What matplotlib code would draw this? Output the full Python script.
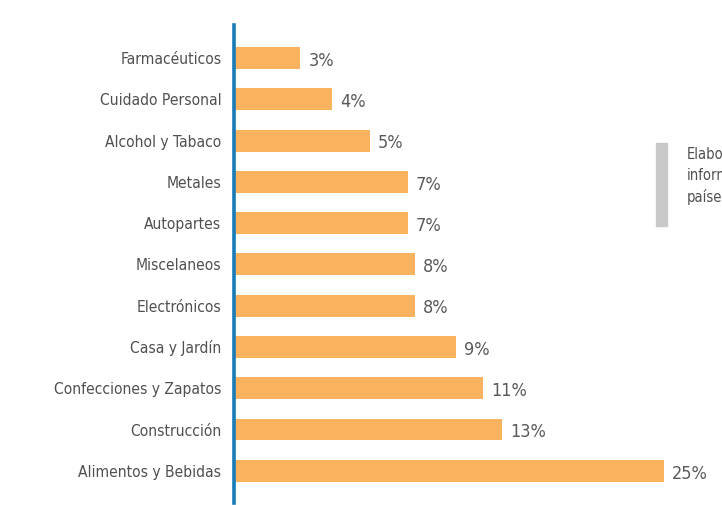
import matplotlib.pyplot as plt
from matplotlib.patches import Rectangle

# categories top to bottom
categories = ["Farmacéuticos", "Cuidado Personal", "Alcohol y Tabaco", "Metales",
              "Autopartes", "Miscelaneos", "Electrónicos", "Casa y Jardín",
              "Confecciones y Zapatos", "Construcción", "Alimentos y Bebidas"]
# printed shares
shares = [3, 4, 5, 7, 7, 8, 8, 9, 11, 13, 25]
# bar lengths as drawn in the picture (not proportional to the printed shares)
bar_len = [3.85, 5.7, 7.9, 10.1, 10.1, 10.5, 10.5, 12.9, 14.5, 15.6, 25.0]

plt.rcParams['font.family'] = ['DejaVu Sans']
plt.rcParams['font.stretch'] = 'condensed'
grey = '#505050'
orange = '#f9b35e'
blue = '#1a7bb9'

fig = plt.figure(figsize=(7.22, 5.05), dpi=100)
ax = fig.add_axes([234/722, 2/505, (722-234)/722, 478/505])

ypos = list(range(len(categories)))
ax.barh(ypos, bar_len, height=0.53, color=orange, edgecolor='none')
ax.set_xlim(0, (722-234)/17.2)
ax.set_ylim(10.78, -0.8)

for y, w, s in zip(ypos, bar_len, shares):
    ax.annotate(f"{s}%", (w, y), xytext=(6, -2), textcoords='offset points',
                ha='left', va='center', fontsize=13, color='#5a5a5a')

ax.set_yticks(ypos)
ax.set_yticklabels(categories, fontsize=11.2, color=grey)
ax.tick_params(axis='y', length=0, pad=9)
ax.set_xticks([])
for side in ['top', 'right', 'bottom']:
    ax.spines[side].set_visible(False)
ax.spines['left'].set_color(blue)
ax.spines['left'].set_linewidth(2.6)

# side note (cut off at the right edge, as in the source)
fig.patches.append(Rectangle((656/722, (505-226)/505), 11/722, 83/505,
                             transform=fig.transFigure, color='#c8c8c8', zorder=0))
fig.text(687/722, (505-176)/505, "Elabo\ninform\npaíses", fontsize=10.5,
         color=grey, va='center', ha='left', linespacing=1.45)

fig.savefig("out.png", dpi=100)
